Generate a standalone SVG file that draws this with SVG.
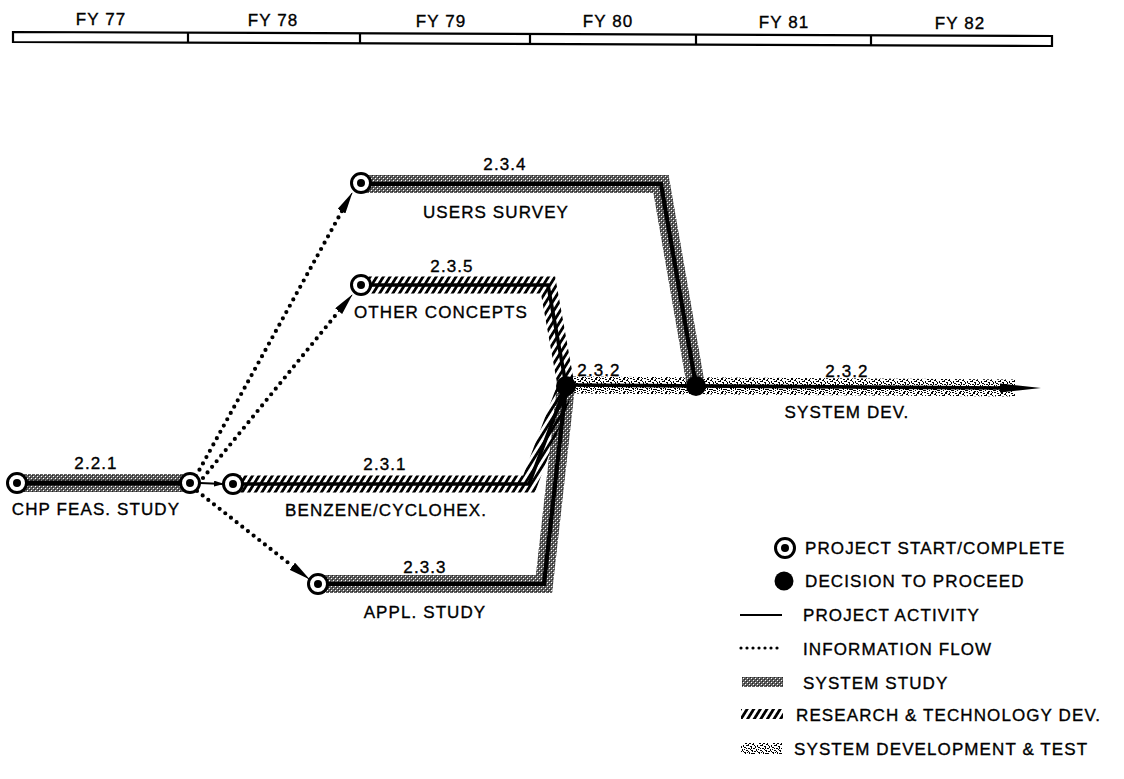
<svg xmlns="http://www.w3.org/2000/svg" width="1124" height="779" viewBox="0 0 1124 779">
<style>
text{font-family:"Liberation Sans",Arial,sans-serif;font-size:17px;letter-spacing:1.1px;fill:#000;stroke:#000;stroke-width:0.35px}
.c{text-anchor:middle}
.ss{fill:none;stroke:#5e5e5e;stroke-width:18;stroke-linejoin:miter}
.ssx{fill:none;stroke:url(#ssx);stroke-width:18;stroke-linejoin:miter}
.rt{fill:none;stroke:url(#rt);stroke-width:17;stroke-linejoin:miter}
.sp{fill:none;stroke:url(#sp);stroke-width:17}
.core{fill:none;stroke:#000;stroke-width:3.6;stroke-linejoin:miter}
.dot{fill:none;stroke:#000;stroke-width:4.2;stroke-linecap:round;stroke-dasharray:0 7.2}
.sc{fill:#fff;stroke:#000;stroke-width:3}
.tl{fill:#fff;stroke:#000;stroke-width:2.2}
</style>
<defs>
<pattern id="ssx" width="4" height="4" patternUnits="userSpaceOnUse">
<rect x="1" y="0" width="1" height="1" fill="#fff"/><rect x="3" y="2" width="1" height="1" fill="#fff"/><rect x="0" y="3" width="1" height="1" fill="#222"/><rect x="2" y="1" width="1" height="1" fill="#222"/>
</pattern>
<pattern id="rt" width="5.6" height="10" patternUnits="userSpaceOnUse" patternTransform="rotate(32)">
<rect width="2.8" height="10" fill="#000"/>
</pattern>
<pattern id="sp" width="14" height="14" patternUnits="userSpaceOnUse">
<rect width="14" height="14" fill="#fff" fill-opacity="0"/>
<g fill="#000">
<rect x="0" y="0" width="2" height="1"/><rect x="3" y="1" width="2" height="1"/><rect x="7" y="0" width="2" height="2"/><rect x="10" y="2" width="2" height="1"/>
<rect x="12" y="0" width="1" height="1"/><rect x="1" y="3" width="1" height="2"/><rect x="5" y="3" width="2" height="1"/><rect x="8" y="4" width="2" height="1"/>
<rect x="13" y="4" width="1" height="2"/><rect x="2" y="5" width="2" height="1"/><rect x="6" y="6" width="2" height="1"/><rect x="11" y="6" width="2" height="1"/>
<rect x="0" y="7" width="1" height="2"/><rect x="4" y="8" width="2" height="1"/><rect x="9" y="8" width="2" height="1"/><rect x="12" y="9" width="2" height="1"/>
<rect x="2" y="10" width="2" height="1"/><rect x="7" y="10" width="1" height="2"/><rect x="10" y="11" width="2" height="1"/><rect x="0" y="12" width="2" height="1"/>
<rect x="5" y="12" width="1" height="1"/><rect x="8" y="13" width="2" height="1"/><rect x="13" y="12" width="1" height="1"/><rect x="3" y="13" width="1" height="1"/>
<rect x="11" y="1" width="1" height="1"/><rect x="6" y="2" width="1" height="1"/><rect x="1" y="9" width="1" height="1"/><rect x="9" y="5" width="1" height="2"/>
<rect x="4" y="6" width="1" height="1"/><rect x="12" y="11" width="1" height="1"/><rect x="6" y="9" width="1" height="1"/><rect x="3" y="11" width="1" height="1"/>
<rect x="10" y="9" width="1" height="1"/><rect x="8" y="7" width="1" height="1"/><rect x="4" y="3" width="1" height="1"/><rect x="11" y="13" width="1" height="1"/>
<rect x="2" y="7" width="1" height="1"/><rect x="5" y="10" width="1" height="1"/><rect x="12" y="3" width="1" height="1"/><rect x="9" y="11" width="1" height="1"/>
</g>
</pattern>
<marker id="ah" viewBox="0 0 22 9" markerWidth="22" markerHeight="9" refX="21" refY="4.5" orient="auto" markerUnits="userSpaceOnUse">
<path d="M0,0 L22,4.5 L0,9 z" fill="#000"/>
</marker>
<marker id="ahs" viewBox="0 0 10 6" markerWidth="10" markerHeight="6" refX="9" refY="3" orient="auto" markerUnits="userSpaceOnUse">
<path d="M0,0 L10,3 L0,6 z" fill="#000"/>
</marker>
<g id="startsym"><circle r="9.5" class="sc"/><circle r="4" fill="#000"/></g>
</defs>
<rect width="1124" height="779" fill="#fff"/>

<g id="timeline">
<path class="tl" d="M13,32 L1052,36 L1052,46 L13,42 Z"/>
<g stroke="#000" stroke-width="2.2">
<line x1="188" y1="32.7" x2="188" y2="42.7"/>
<line x1="360" y1="33.4" x2="360" y2="43.4"/>
<line x1="530" y1="34" x2="530" y2="44"/>
<line x1="696" y1="34.6" x2="696" y2="44.6"/>
<line x1="871" y1="35.3" x2="871" y2="45.3"/>
</g>
<text class="c" x="101" y="25">FY 77</text>
<text class="c" x="273" y="26">FY 78</text>
<text class="c" x="441" y="27">FY 79</text>
<text class="c" x="608" y="27">FY 80</text>
<text class="c" x="784" y="28">FY 81</text>
<text class="c" x="960" y="29">FY 82</text>
</g>

<g id="connectors">
<g id="act-2.3.2">
<path class="sp" d="M566,385 L1015,388"/>
<path class="core" d="M566,385 L1005,388"/>
<path d="M1000,383.5 L1041,388 L1000,392.5 Z" fill="#000"/>
</g>
<g id="act-2.2.1"><path class="ss" d="M18,483 L190,483"/><path class="ssx" d="M18,483 L190,483"/><path class="core" d="M18,483 L190,483" style="stroke-width:5"/></g>
<g id="act-2.3.4"><path class="ss" d="M361,184 L661,184 L696,386"/><path class="ssx" d="M361,184 L661,184 L696,386"/><path class="core" d="M361,184 L661,184 L696,386" style="stroke-width:4.2"/></g>
<g id="act-2.3.5"><path class="rt" d="M361,285 L548,285 L566,385"/><path class="core" d="M361,285 L548,285 L566,385"/></g>
<g id="act-2.3.3"><path class="ss" d="M318,584 L544,584 L566,386"/><path class="ssx" d="M318,584 L544,584 L566,386"/><path class="core" d="M318,584 L544,584 L566,386" style="stroke-width:4.2"/></g>
<g id="act-2.3.1"><path class="rt" d="M233,484 L529,484 L566,386"/><path class="core" d="M233,484 L529,484 L566,386"/></g>
<g id="info-flows">
<path class="dot" d="M196,476 L342,211"/>
<line x1="341" y1="212" x2="352" y2="193" stroke="#000" stroke-width="1" marker-end="url(#ah)"/>
<path class="dot" d="M203,478 L339,311"/>
<line x1="338" y1="312" x2="352" y2="295" stroke="#000" stroke-width="1" marker-end="url(#ah)"/>
<path class="dot" d="M197,491 L291,565"/>
<line x1="292" y1="566" x2="309" y2="579" stroke="#000" stroke-width="1" marker-end="url(#ah)"/>
<line x1="200" y1="483" x2="223" y2="484" stroke="#000" stroke-width="2.2" marker-end="url(#ahs)"/>
</g>
</g>

<g id="node-chp-start"><use href="#startsym" x="17" y="483"/></g>
<g id="node-chp-end"><use href="#startsym" x="190" y="483"/></g>
<g id="node-benzene-start"><use href="#startsym" x="233" y="484"/></g>
<g id="node-users-start"><use href="#startsym" x="361" y="183"/></g>
<g id="node-other-start"><use href="#startsym" x="361" y="285"/></g>
<g id="node-appl-start"><use href="#startsym" x="318" y="584"/></g>
<g id="node-decision-1"><circle cx="566" cy="386" r="10" fill="#000"/></g>
<g id="node-decision-2"><circle cx="696" cy="386" r="10" fill="#000"/></g>

<g id="labels">
<text class="c" x="96" y="469">2.2.1</text>
<text class="c" x="96" y="515">CHP FEAS. STUDY</text>
<text class="c" x="385" y="470">2.3.1</text>
<text class="c" x="386" y="516">BENZENE/CYCLOHEX.</text>
<text class="c" x="425" y="573">2.3.3</text>
<text class="c" x="425" y="618">APPL. STUDY</text>
<text class="c" x="505" y="170">2.3.4</text>
<text class="c" x="496" y="218">USERS SURVEY</text>
<text class="c" x="452" y="272">2.3.5</text>
<text class="c" x="441" y="318">OTHER CONCEPTS</text>
<text class="c" x="599" y="376">2.3.2</text>
<text class="c" x="847" y="377">2.3.2</text>
<text class="c" x="847" y="418">SYSTEM DEV.</text>
</g>

<g id="legend">
<use href="#startsym" x="785" y="548"/>
<text x="805" y="554">PROJECT START/COMPLETE</text>
<circle cx="784" cy="581" r="9.5" fill="#000"/>
<text x="805" y="587">DECISION TO PROCEED</text>
<line x1="740" y1="615" x2="782" y2="615" stroke="#000" stroke-width="2"/>
<text x="803" y="621">PROJECT ACTIVITY</text>
<line x1="741" y1="648" x2="782" y2="648" class="dot" style="stroke-width:3.2;stroke-dasharray:0 6"/>
<text x="803" y="655">INFORMATION FLOW</text>
<rect x="742" y="677" width="41" height="10" fill="#5e5e5e"/>
<rect x="742" y="677" width="41" height="10" fill="url(#ssx)"/>
<text x="803" y="689">SYSTEM STUDY</text>
<rect x="741" y="709" width="42" height="10" fill="url(#rt)"/>
<text x="796" y="721">RESEARCH &amp; TECHNOLOGY DEV.</text>
<rect x="741" y="743" width="41" height="11" fill="url(#sp)"/>
<text x="794" y="755">SYSTEM DEVELOPMENT &amp; TEST</text>
</g>
</svg>
